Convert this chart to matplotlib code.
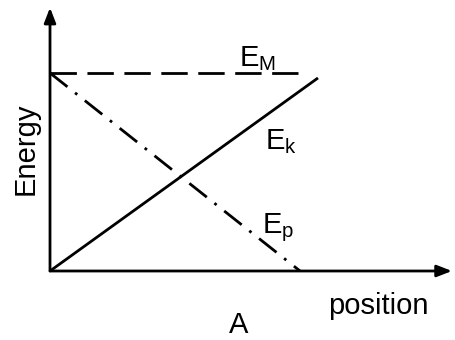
import matplotlib.pyplot as plt

# energy vs position, normalised: E_M = 1, position A = 1
pos_k = [0, 1.0]
e_k = [0, 0.975]
pos_m = [0, 0.925]
e_m = [1.0, 1.0]
pos_p = [0, 0.933]
e_p = [1.0, 0]

plt.rcParams['font.family'] = ['Liberation Sans', 'DejaVu Sans']

fig = plt.figure(figsize=(4.56, 3.40), dpi=100)
ax = fig.add_axes([0, 0, 1, 1])
ax.set_xlim(-0.1866, 1.515)
ax.set_ylim(-0.3485, 1.3687)
ax.axis('off')

lw = 2
ax.plot(pos_k, e_k, color='black', lw=lw, solid_capstyle='butt')
ax.plot(pos_m, e_m, color='black', lw=lw, linestyle=(0, (9.5, 3.8)))
ax.plot(pos_p, e_p, color='black', lw=lw, linestyle=(0, (8, 3.5, 1, 3.5)))

# axes with arrows
arrow = dict(arrowstyle='-|>,head_length=0.9,head_width=0.35', color='black', lw=lw,
             shrinkA=0, shrinkB=0)
ax.annotate('', xy=(1.50, 0), xytext=(0, 0), arrowprops=arrow)
ax.annotate('', xy=(0, 1.33), xytext=(0, 0), arrowprops=arrow)

fs = 21
ax.text(0.775, 1.075, r'E$_\mathregular{M}$', fontsize=fs, ha='center', va='center')
ax.text(0.86, 0.655, r'E$_\mathregular{k}$', fontsize=fs, ha='center', va='center')
ax.text(0.85, 0.22, r'E$_\mathregular{p}$', fontsize=fs, ha='center', va='center')
ax.text(1.225, -0.175, 'position', fontsize=fs, ha='center', va='center')
ax.text(0.705, -0.275, 'A', fontsize=fs, ha='center', va='center')
ax.text(-0.09, 0.616, 'Energy', fontsize=fs, ha='center', va='center', rotation=90)

fig.savefig('out.png', dpi=100)
